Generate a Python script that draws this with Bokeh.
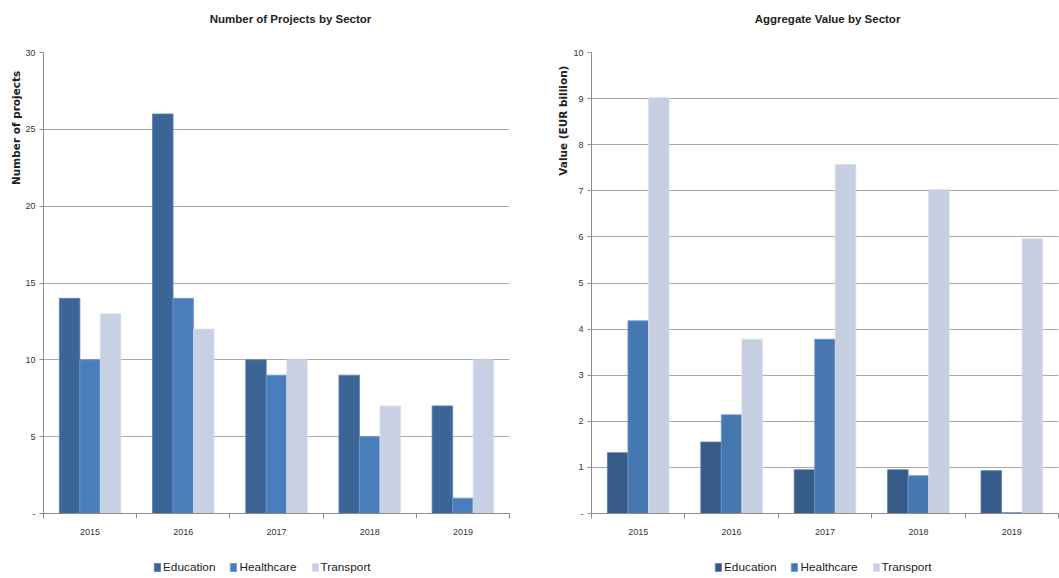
import math
from bokeh.plotting import figure
from bokeh.layouts import row, column
from bokeh.models import (Range1d, FixedTicker, Legend, LegendItem, Label)
from bokeh.transform import dodge
from bokeh.embed import file_html
from bokeh.resources import INLINE

years = ["2015", "2016", "2017", "2018", "2019"]
sectors = ["Education", "Healthcare", "Transport"]

projects_education = [14, 26, 10, 9, 7]
projects_healthcare = [10, 14, 9, 5, 1]
projects_transport = [13, 12, 10, 7, 10]

value_education = [1.32, 1.55, 0.95, 0.95, 0.93]
value_healthcare = [4.18, 2.14, 3.78, 0.82, 0.02]
value_transport = [9.02, 3.78, 7.57, 7.03, 5.96]

projects_ticks = [0, 5, 10, 15, 20, 25, 30]
value_ticks = [0, 1, 2, 3, 4, 5, 6, 7, 8, 9, 10]

left_colors = ["#3B6497", "#4A7EBB", "#C8D1E4"]
right_colors = ["#375B89", "#4677B0", "#C6CFE2"]
edge_colors = ["#5A80B0", "#6B97CC", "#D8DEEC"]

SANS = "Liberation Sans"
WIDE = "DejaVu Sans"
TITLE_H = 36
CHART_H = 514
LEGEND_H = 26
FRAME_TOP = 52      # page y of the plot area's top
FRAME_BOTTOM = 513  # page y of the plot area's bottom


def blank_figure(width, height, xr, yr):
    f = figure(width=width, height=height, x_range=xr, y_range=yr, title=None,
               output_backend="svg", toolbar_location=None,
               x_axis_location=None, y_axis_location=None,
               min_border=0, min_border_left=0, min_border_right=0,
               min_border_top=0, min_border_bottom=0)
    f.outline_line_color = None
    f.xgrid.visible = False
    f.ygrid.visible = False
    f.background_fill_color = "white"
    f.border_fill_color = "white"
    return f


def make_chart(title, series, ticks, ylabel, colors, total_width, label_width,
               border_left, border_right, title_x, label_xy, legend_x):
    n = len(years)
    ymax = ticks[-1]
    chart_w = total_width - label_width
    p = figure(x_range=Range1d(0, n), y_range=Range1d(0, ymax), title=None,
               width=chart_w, height=CHART_H, output_backend="svg",
               toolbar_location=None,
               min_border_left=border_left, min_border_right=border_right,
               min_border_top=FRAME_TOP - TITLE_H,
               min_border_bottom=TITLE_H + CHART_H - FRAME_BOTTOM)
    p.outline_line_color = None
    p.background_fill_color = "white"
    p.border_fill_color = "white"
    p.xgrid.visible = False

    # y axis
    ya = p.yaxis[0]
    ya.ticker = FixedTicker(ticks=ticks)
    ya.major_label_overrides = {0: "-"}
    ya.axis_line_color = "#8C8C8C"
    ya.major_tick_line_color = "#8C8C8C"
    ya.major_tick_out = 4
    ya.major_tick_in = 0
    ya.minor_tick_line_color = None
    ya.major_label_standoff = 4
    ya.major_label_text_font = SANS
    ya.major_label_text_font_size = "9px"
    ya.major_label_text_color = "#333333"
    p.ygrid.grid_line_color = "#A8A8A8"
    p.ygrid.grid_line_width = 1

    # x axis: year labels at category centres, tick marks at category boundaries
    centers = [i + 0.5 for i in range(n)]
    xa = p.xaxis[0]
    xa.ticker = FixedTicker(ticks=centers, minor_ticks=list(range(n + 1)))
    xa.major_label_overrides = {c: y for c, y in zip(centers, years)}
    xa.axis_line_color = "#8C8C8C"
    xa.major_tick_out = 0
    xa.major_tick_in = 0
    xa.minor_tick_out = 5
    xa.minor_tick_in = 0
    xa.minor_tick_line_color = "#8C8C8C"
    xa.major_label_standoff = 10
    xa.major_label_text_font = SANS
    xa.major_label_text_font_size = "9px"
    xa.major_label_text_color = "#333333"

    data = {"year": years, "pos": centers}
    for s, vals in zip(sectors, series):
        data[s] = vals
    bw = 0.22
    offsets = [-bw, 0, bw]
    for s, off, c, ec in zip(sectors, offsets, colors, edge_colors):
        p.vbar(x=dodge("pos", off), top=s, width=bw, source=data,
               fill_color=c, line_color=ec, line_width=0.8)

    # title strip
    tfig = blank_figure(total_width, TITLE_H, Range1d(0, total_width), Range1d(0, TITLE_H))
    tfig.add_layout(Label(x=title_x, y=TITLE_H / 2, text=title, text_font=SANS,
                          text_font_style="bold", text_font_size="11.5px",
                          text_color="#222222", text_align="center",
                          text_baseline="middle"))

    # y-axis title strip (placed near the top of the axis, like the original)
    lab = blank_figure(label_width, CHART_H, Range1d(0, label_width), Range1d(0, CHART_H))
    lab.add_layout(Label(x=label_xy[0], y=TITLE_H + CHART_H - label_xy[1], text=ylabel,
                         angle=math.pi / 2, text_font=WIDE, text_font_style="bold",
                         text_font_size="10.5px", text_color="#222222",
                         text_align="center", text_baseline="middle"))

    # legend strip under the chart (renderers carry the same data, outside the view)
    leg = blank_figure(total_width, LEGEND_H, Range1d(-2, -1), Range1d(0, 1))
    items = []
    for s, off, c, ec in zip(sectors, offsets, colors, edge_colors):
        r = leg.vbar(x=dodge("pos", off), top=s, width=bw, source=data,
                     fill_color=c, line_color=ec, line_width=0.8)
        items.append(LegendItem(label=s, renderers=[r]))
    legend = Legend(items=items, orientation="horizontal", location=(legend_x, 2),
                    border_line_color=None, background_fill_alpha=0,
                    padding=0, margin=0, spacing=14, label_standoff=2,
                    glyph_width=8, glyph_height=10,
                    label_text_font=SANS, label_text_font_size="11.8px",
                    label_text_color="#222222", label_height=14)
    leg.add_layout(legend, "center")

    return column(tfig, row(lab, p, spacing=0), leg, spacing=0)


left = make_chart("Number of Projects by Sector",
                  [projects_education, projects_healthcare, projects_transport],
                  projects_ticks, "Number of projects", left_colors,
                  total_width=530, label_width=22, border_left=20, border_right=21,
                  title_x=290, label_xy=(15, 120), legend_x=153)
right = make_chart("Aggregate Value by Sector",
                   [value_education, value_healthcare, value_transport],
                   value_ticks, "Value (EUR billion)", right_colors,
                   total_width=529, label_width=40, border_left=21, border_right=1,
                   title_x=297, label_xy=(32, 112), legend_x=184)

layout = row(left, right, spacing=0)
open("out.html", "w").write(file_html(layout, INLINE))
